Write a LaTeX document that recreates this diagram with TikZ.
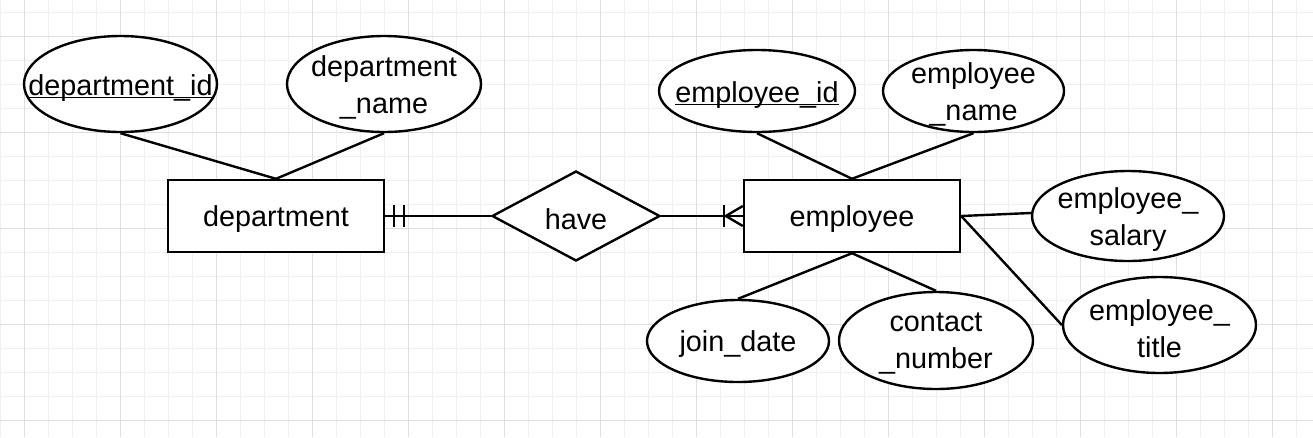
\documentclass[tikz,border=0pt]{standalone}
\usepackage{fontspec}
\setmainfont{Liberation Sans}
\usetikzlibrary{shapes.geometric,calc}
\definecolor{minorgrid}{HTML}{F0F0F0}
\definecolor{majorgrid}{HTML}{DEDEDE}
\tikzset{
  lw/.style={line width=2.4pt},
  attr/.style={ellipse, draw, lw, inner sep=0pt, fill=white},
  ent/.style={rectangle, draw, lw, inner sep=0pt, fill=white, minimum width=216pt, minimum height=72pt},
  rel/.style={diamond, draw, lw, inner sep=0pt, fill=white, minimum width=168pt, minimum height=90pt},
  lbl/.style={inner sep=0pt, align=center, yshift=-3.5pt, font=\fontsize{28.8}{37}\selectfont},
  ullbl/.style={lbl, yshift=-9pt},
  conn/.style={lw},
}
\begin{document}
\begin{tikzpicture}[x=1pt,y=-1pt]
\useasboundingbox (0,0) rectangle (1313,437);
\fill[white] (0,0) rectangle (1313,437);
% grid
\foreach \x in {0,24,...,1312} \draw[minorgrid, line width=1pt] (\x,0) -- (\x,437);
\foreach \y in {12,36,...,436} \draw[minorgrid, line width=1pt] (0,\y) -- (1313,\y);
\foreach \x in {24,120,...,1312} \draw[majorgrid, line width=1pt] (\x,0) -- (\x,437);
\foreach \y in {36,132,...,436} \draw[majorgrid, line width=1pt] (0,\y) -- (1313,\y);

% entities and relationship
\node[ent] (dept) at (276,216) {};
\node[lbl] (deptt) at (dept) {department};
\node[ent] (emp) at (852,216) {};
\node[lbl] (empt) at (emp) {employee};
\node[rel] (have) at (576,216) {};
\node[lbl] (havet) at (have) {have};

% attributes
\node[attr, minimum width=193pt, minimum height=96pt] (did) at (120.5,84) {};
\node[ullbl] (didt) at (did) {\underline{\smash{department\_id}}};
\node[attr, minimum width=194pt, minimum height=96pt] (dname) at (384,84) {};
\node[lbl] (dnamet) at (dname) {department\\\_name};

\node[attr, minimum width=196pt, minimum height=82pt] (eid) at (757,91) {};
\node[ullbl] (eidt) at (eid) {\underline{\smash{employee\_id}}};
\node[attr, minimum width=181pt, minimum height=82pt] (ename) at (973.5,91) {};
\node[lbl] (enamet) at (ename) {employee\\\_name};
\node[attr, minimum width=192pt, minimum height=90pt] (esal) at (1128,216) {};
\node[lbl] (esalt) at (esal) {employee\_\\salary};
\node[attr, minimum width=193pt, minimum height=96pt] (etitle) at (1159.5,325) {};
\node[lbl] (etitlet) at (etitle) {employee\_\\title};
\node[attr, minimum width=182pt, minimum height=82pt] (jdate) at (738,341) {};
\node[lbl] (jdatet) at (jdate) {join\_date};
\node[attr, minimum width=194pt, minimum height=97pt] (cnum) at (936,340.5) {};
\node[lbl] (cnumt) at (cnum) {contact\\\_number};

% attribute connectors
\draw[conn] (did.south) -- (dept.north);
\draw[conn] (dname.south) -- (dept.north);
\draw[conn] (eid.south) -- (emp.north);
\draw[conn] (ename.south) -- (emp.north);
\draw[conn] (emp.east) -- ($(esal.west)+(0,-3)$);
\draw[conn] (emp.east) -- (etitle.west);
\draw[conn] (emp.south) -- (jdate.north);
\draw[conn] (emp.south) -- (cnum.north);

% relationship connectors
\draw[conn] (dept.east) -- (have.west);
\draw[conn] (have.east) -- (emp.west);
% one and only one (two bars) at department
\draw[conn] ($(dept.east)+(9,-11)$) -- ($(dept.east)+(9,11)$);
\draw[conn] ($(dept.east)+(19,-11)$) -- ($(dept.east)+(19,11)$);
% one or many at employee
\draw[conn] ($(emp.west)+(-19,-11)$) -- ($(emp.west)+(-19,11)$);
\draw[conn] ($(emp.west)+(0,-10)$) -- ($(emp.west)+(-17,0)$) -- ($(emp.west)+(0,10)$);
\end{tikzpicture}
\end{document}
